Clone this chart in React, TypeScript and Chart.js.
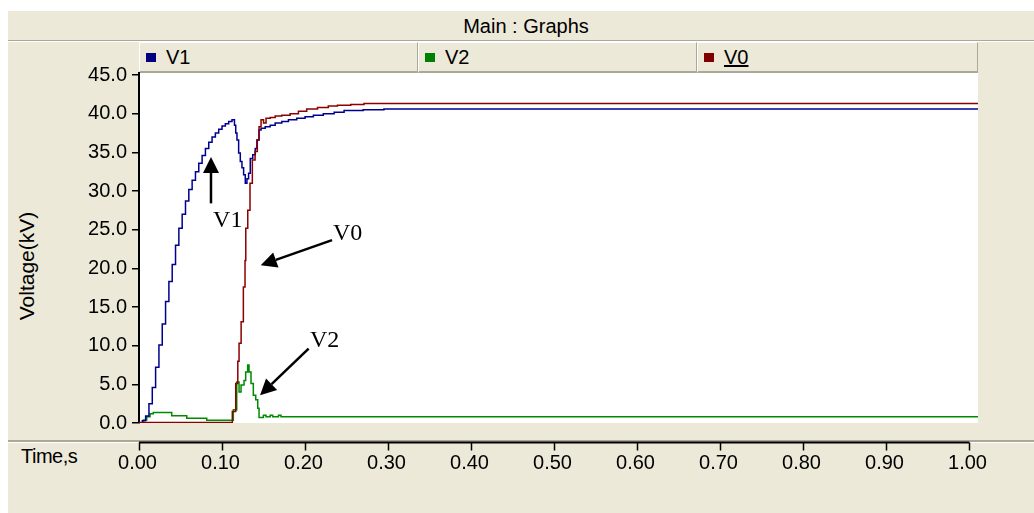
import React, { useEffect, useRef } from 'react';
import { Chart, registerables } from 'chart.js';

Chart.register(...registerables);

const SANS = "'Liberation Sans', Arial, sans-serif";
const SERIF = "'Liberation Serif', 'Times New Roman', serif";
const BEIGE = '#ECE9D8';
const SHADE = '#ACA899';

// ---- series data: [time (s), voltage (kV)] ----
const v1Points: number[][] = [
  [0, 0], [0.004, 0.3], [0.008, 0.9], [0.012, 2.5], [0.016, 4.6], [0.02, 7.2], [0.024, 10.1],
  [0.028, 12.8], [0.032, 15.7], [0.036, 18.3], [0.04, 20.5], [0.044, 23.0], [0.048, 25.2],
  [0.052, 27.0], [0.056, 28.7], [0.06, 30.2], [0.064, 31.4], [0.068, 32.5], [0.072, 33.6],
  [0.076, 34.6], [0.08, 35.5], [0.084, 36.3], [0.088, 37.0], [0.092, 37.5], [0.096, 38.0],
  [0.1, 38.4], [0.104, 38.7], [0.108, 39.0], [0.112, 39.2], [0.115, 38.5], [0.1165, 37.5],
  [0.118, 36.6], [0.12, 34.9], [0.122, 33.8], [0.124, 33.0], [0.126, 32.1], [0.128, 31.0],
  [0.13, 31.6], [0.132, 32.3], [0.134, 34.2], [0.137, 34.7], [0.14, 35.5], [0.142, 36.6],
  [0.1445, 37.9], [0.147, 38.1], [0.152, 38.3], [0.158, 38.5], [0.164, 38.8], [0.172, 39.0],
  [0.18, 39.2], [0.19, 39.4], [0.2, 39.6], [0.21, 39.8], [0.222, 40.0], [0.235, 40.2],
  [0.247, 40.4], [0.27, 40.5], [0.295, 40.6], [1.011, 40.6],
];

const v2Points: number[][] = [
  [0, 0], [0.0052, 0.4], [0.0093, 0.8], [0.0133, 1.2], [0.0172, 1.35], [0.0394, 0.95],
  [0.0575, 0.6], [0.0816, 0.35], [0.1136, 1.7], [0.1177, 5.3], [0.1205, 4.0], [0.1229, 4.9],
  [0.1265, 5.5], [0.1285, 6.6], [0.1309, 7.5], [0.1325, 6.6], [0.1349, 5.1], [0.1377, 3.6],
  [0.1406, 3.0], [0.143, 1.9], [0.1446, 0.7], [0.1498, 1.0], [0.153, 0.8], [0.158, 1.0],
  [0.161, 0.8], [0.168, 1.0], [0.171, 0.8], [1.011, 0.8],
];

const v0Points: number[][] = [
  [0, 0.05], [0.1124, 1.5], [0.1165, 5.1], [0.119, 8.0], [0.1205, 10.3], [0.123, 13.1],
  [0.1257, 17.6], [0.1277, 21.0], [0.1286, 25.2], [0.131, 27.5], [0.1337, 31.0], [0.1365, 34.0],
  [0.1398, 35.1], [0.1425, 36.6], [0.1446, 38.3], [0.147, 39.2], [0.15, 38.8], [0.153, 39.4],
  [0.158, 39.5], [0.164, 39.7], [0.172, 39.8], [0.182, 40.0], [0.192, 40.3], [0.202, 40.6],
  [0.215, 40.8], [0.228, 41.0], [0.239, 41.1], [0.255, 41.2], [0.271, 41.3], [1.011, 41.3],
];

const seriesNames = ['V1', 'V2', 'V0'];
const seriesColors = ['#000090', '#008a00', '#8c0000'];
const legendSwatch = ['#000080', '#008000', '#800000'];

// ---- axes ----
const xTickValues = [0, 0.1, 0.2, 0.3, 0.4, 0.5, 0.6, 0.7, 0.8, 0.9, 1.0];
const xTickLabels = ['0.00', '0.10', '0.20', '0.30', '0.40', '0.50', '0.60', '0.70', '0.80', '0.90', '1.00'];
const yTickValues = [0, 5, 10, 15, 20, 25, 30, 35, 40, 45];
const yTickLabels = ['0.0', '5.0', '10.0', '15.0', '20.0', '25.0', '30.0', '35.0', '40.0', '45.0'];
const xMin = 0;
const xMax = 1.0105;
const yMin = 0;
const yMax = 45.26;

// ---- annotations (data coordinates) ----
const annText = ['V1', 'V0', 'V2'];
const annTextT = [0.0892, 0.2337, 0.206];
const annTextV = [25.3, 23.65, 9.84];
const arrowTailT = [0.0867, 0.2325, 0.2043];
const arrowTailV = [28.4, 23.65, 9.63];
const arrowTipT = [0.0867, 0.1466, 0.1458];
const arrowTipV = [34.4, 20.4, 3.59];

const toXY = (pts: number[][]) => pts.map(([x, y]) => ({ x, y }));

export default function App() {
  const canvasRef = useRef<HTMLCanvasElement | null>(null);

  useEffect(() => {
    const canvas = canvasRef.current;
    if (!canvas) return;

    const decor = {
      id: 'decor',
      beforeDraw(chart: any) {
        const { ctx, chartArea } = chart;
        ctx.save();
        ctx.fillStyle = '#ffffff';
        ctx.fillRect(chartArea.left, chartArea.top, chartArea.right - chartArea.left, chartArea.bottom - chartArea.top);
        ctx.restore();
      },
      afterDatasetsDraw(chart: any) {
        const { ctx } = chart;
        const xs = chart.scales.x;
        const ys = chart.scales.y;
        ctx.save();
        ctx.strokeStyle = '#000';
        ctx.fillStyle = '#000';
        ctx.lineWidth = 2.5;
        for (let i = 0; i < annText.length; i++) {
          const x0 = xs.getPixelForValue(arrowTailT[i]);
          const y0 = ys.getPixelForValue(arrowTailV[i]);
          const x1 = xs.getPixelForValue(arrowTipT[i]);
          const y1 = ys.getPixelForValue(arrowTipV[i]);
          const ang = Math.atan2(y1 - y0, x1 - x0);
          const headLen = 16;
          const headHalf = 8;
          const bx = x1 - headLen * Math.cos(ang);
          const by = y1 - headLen * Math.sin(ang);
          ctx.beginPath();
          ctx.moveTo(x0, y0);
          ctx.lineTo(bx, by);
          ctx.stroke();
          ctx.beginPath();
          ctx.moveTo(x1, y1);
          ctx.lineTo(bx + headHalf * Math.sin(ang), by - headHalf * Math.cos(ang));
          ctx.lineTo(bx - headHalf * Math.sin(ang), by + headHalf * Math.cos(ang));
          ctx.closePath();
          ctx.fill();
          ctx.font = `24px ${SERIF}`;
          ctx.textAlign = 'left';
          ctx.textBaseline = 'alphabetic';
          ctx.fillText(annText[i], xs.getPixelForValue(annTextT[i]), ys.getPixelForValue(annTextV[i]));
        }
        ctx.restore();
      },
      afterDraw(chart: any) {
        const { ctx, chartArea } = chart;
        const xs = chart.scales.x;
        const axisY = chartArea.bottom + 19.5;
        ctx.save();
        ctx.strokeStyle = '#000';
        ctx.lineWidth = 2;
        ctx.beginPath();
        ctx.moveTo(xs.getPixelForValue(xTickValues[0]), axisY);
        ctx.lineTo(xs.getPixelForValue(xTickValues[xTickValues.length - 1]), axisY);
        ctx.stroke();
        ctx.lineWidth = 1.5;
        ctx.font = `20px ${SANS}`;
        ctx.fillStyle = '#000';
        ctx.textAlign = 'center';
        ctx.textBaseline = 'middle';
        xTickValues.forEach((v, i) => {
          const px = Math.round(xs.getPixelForValue(v)) + 0.5;
          ctx.beginPath();
          ctx.moveTo(px, axisY);
          ctx.lineTo(px, axisY + 8);
          ctx.stroke();
          ctx.fillText(xTickLabels[i], px - 2, axisY + 21);
        });
        ctx.restore();
      },
    };

    const chart = new Chart(canvas, {
      type: 'line',
      data: {
        datasets: [
          { label: seriesNames[0], data: toXY(v1Points), borderColor: seriesColors[0], order: 1 },
          { label: seriesNames[1], data: toXY(v2Points), borderColor: seriesColors[1], order: 2 },
          { label: seriesNames[2], data: toXY(v0Points), borderColor: seriesColors[2], order: 0 },
        ].map((d) => ({
          ...d,
          stepped: true,
          borderWidth: 1.5,
          pointRadius: 0,
          fill: false,
          tension: 0,
        })) as any,
      },
      options: {
        animation: false,
        responsive: false,
        maintainAspectRatio: false,
        events: [],
        layout: { padding: { left: 0, top: 73, right: 56, bottom: 90 } },
        plugins: { legend: { display: false }, title: { display: false }, tooltip: { enabled: false } },
        scales: {
          x: { type: 'linear', min: xMin, max: xMax, display: false },
          y: {
            type: 'linear',
            min: yMin,
            max: yMax,
            afterBuildTicks: (scale: any) => {
              scale.ticks = yTickValues.map((v) => ({ value: v }));
            },
            afterFit: (scale: any) => {
              scale.width = 139;
            },
            ticks: {
              autoSkip: false,
              padding: 5,
              color: '#000',
              font: { family: SANS, size: 20 },
              callback: (_v: any, i: number) => yTickLabels[i],
            },
            grid: { drawOnChartArea: false, drawTicks: true, tickLength: 7, color: '#000', lineWidth: 1.5 },
            border: { display: true, color: '#000', width: 2 },
          },
        },
      },
      plugins: [decor],
    } as any);

    return () => chart.destroy();
  }, []);

  const abs = (s: React.CSSProperties): React.CSSProperties => ({ position: 'absolute', ...s });
  const cells = [
    { left: 139, width: 279 },
    { left: 418, width: 279 },
    { left: 697, width: 281 },
  ];

  return (
    <div style={abs({ left: 0, top: 0, width: 1034, height: 513, background: '#fff', overflow: 'hidden', fontFamily: SANS, color: '#000' })}>
      <div style={abs({ left: 8, top: 10, width: 1026, height: 503, background: BEIGE })} />
      <div style={abs({ left: 8, top: 10, width: 1026, height: 1, background: '#fff' })} />
      <div style={abs({ left: 8, top: 40, width: 1026, height: 1, background: SHADE })} />
      <div style={abs({ left: 8, top: 41, width: 1026, height: 1, background: '#fff' })} />
      <div style={abs({ left: 326, top: 13, width: 400, height: 26, lineHeight: '26px', textAlign: 'center', fontSize: 20 })}>Main : Graphs</div>
      {cells.map((c, i) => (
        <div
          key={i}
          style={abs({
            left: c.left,
            top: 42,
            width: c.width,
            height: 31,
            boxSizing: 'border-box',
            borderTop: '1px solid #fff',
            borderLeft: '1px solid #fff',
            borderRight: `1px solid ${SHADE}`,
            borderBottom: `2px solid ${SHADE}`,
            background: BEIGE,
          })}
        >
          <div style={abs({ left: 6, top: 10, width: 10, height: 9, background: legendSwatch[i] })} />
          <div style={abs({ left: 26, top: 1, height: 26, lineHeight: '26px', fontSize: 20, textDecoration: i === 2 ? 'underline' : 'none' })}>
            {seriesNames[i]}
          </div>
        </div>
      ))}
      <div style={abs({ left: 8, top: 440, width: 1026, height: 2, background: SHADE })} />
      <div style={abs({ left: 8, top: 442, width: 1026, height: 1, background: '#fff' })} />
      <div
        style={abs({
          left: 27 - 80,
          top: 266 - 13,
          width: 160,
          height: 26,
          lineHeight: '26px',
          textAlign: 'center',
          fontSize: 21,
          transform: 'rotate(-90deg)',
        })}
      >
        Voltage(kV)
      </div>
      <div style={abs({ left: 21, top: 443, height: 26, lineHeight: '26px', fontSize: 20, letterSpacing: '-0.5px' })}>Time,s</div>
      <canvas ref={canvasRef} width={1034} height={513} style={abs({ left: 0, top: 0, width: 1034, height: 513 })} />
    </div>
  );
}
